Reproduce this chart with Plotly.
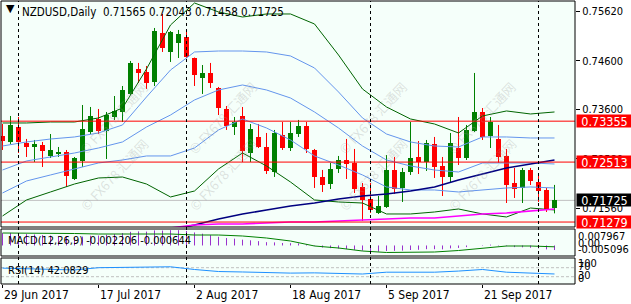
import plotly.graph_objects as go
import pandas as pd

# ---------------- data ----------------
dates = pd.bdate_range("2017-06-29", "2017-10-04")  # 70 daily bars

opens = [0.73050,0.72927,0.73236,0.72906,0.72824,0.72865,0.72639,0.72680,0.72721,0.72165,
 0.72536,0.73133,0.73400,0.73153,0.73441,0.73544,0.73915,0.74429,0.74367,0.74162,
 0.75170,0.74779,0.74964,0.75088,0.74655,0.74244,0.74347,0.74038,0.73606,0.73236,
 0.73462,0.72700,0.73030,0.72824,0.72309,0.73071,0.72803,0.73091,0.73256,0.72762,
 0.72207,0.72062,0.72371,0.72556,0.72495,0.72001,0.71754,0.71466,0.71589,0.72351,
 0.71980,0.72309,0.72618,0.72515,0.72886,0.72433,0.72207,0.72803,0.72597,0.73153,
 0.73544,0.73050,0.72989,0.72639,0.72083,0.71980,0.72351,0.72103,0.71939,0.71565]
highs = [0.73297,0.73462,0.73441,0.72989,0.72968,0.72927,0.73091,0.72824,0.72762,0.72618,
 0.73688,0.73647,0.73606,0.73544,0.73873,0.74079,0.74594,0.74553,0.74491,0.75273,
 0.75561,0.75211,0.75232,0.75232,0.74665,0.74511,0.74553,0.74059,0.73667,0.73441,
 0.73647,0.73297,0.73297,0.73112,0.73174,0.73338,0.73338,0.73380,0.73338,0.72783,
 0.72351,0.72495,0.72639,0.72989,0.72783,0.72083,0.72083,0.71815,0.72659,0.72618,
 0.72392,0.73338,0.72947,0.72968,0.73030,0.72618,0.73112,0.73441,0.73277,0.74347,
 0.73626,0.73441,0.73277,0.72783,0.72392,0.72392,0.72392,0.72268,0.71980,0.72043]
lows = [0.72762,0.72886,0.72700,0.72618,0.72515,0.72412,0.72597,0.72618,0.72001,0.72145,
 0.72412,0.73091,0.73091,0.72577,0.73380,0.73338,0.73894,0.74141,0.74017,0.74079,
 0.74779,0.74573,0.74655,0.74655,0.74079,0.73915,0.74038,0.73482,0.73174,0.73071,
 0.72515,0.72515,0.72803,0.72268,0.72207,0.72762,0.72741,0.73030,0.72700,0.71980,
 0.71898,0.71959,0.72289,0.72165,0.71877,0.71301,0.71466,0.71445,0.71569,0.71857,
 0.71692,0.72248,0.72268,0.72330,0.72186,0.71815,0.72103,0.72453,0.72556,0.73133,
 0.72968,0.72803,0.72495,0.71671,0.71774,0.71671,0.72042,0.71692,0.71486,0.71458]
closes = [0.72947,0.73277,0.72927,0.72824,0.72886,0.72741,0.72762,0.72721,0.72227,0.72597,
 0.73194,0.73462,0.73153,0.73482,0.73565,0.73997,0.74553,0.74347,0.74141,0.75211,
 0.74861,0.75191,0.75149,0.74676,0.74306,0.74347,0.74141,0.73626,0.73256,0.73338,
 0.72741,0.73194,0.72824,0.72330,0.73112,0.72803,0.73112,0.73256,0.72783,0.72207,
 0.72042,0.72371,0.72556,0.72474,0.71959,0.71733,0.71527,0.71610,0.72351,0.71959,
 0.72309,0.72597,0.72515,0.72906,0.72412,0.72207,0.72906,0.72597,0.73174,0.73544,
 0.73030,0.73338,0.72618,0.72042,0.71959,0.72351,0.72124,0.71918,0.71548,0.71725]

# indicator lines, read every third bar
line_idx = [0,3,6,9,12,15,18,21,24,27,30,33,36,39,42,45,48,51,54,57,60,63,66,69]
bb_upper2 = [0.73318,0.73318,0.73338,0.73338,0.73421,0.73626,0.74429,0.75334,0.75787,0.75602,0.75499,0.75561,
             0.75561,0.75355,0.74717,0.74017,0.73647,0.73400,0.73297,0.73112,0.73462,0.73565,0.73503,0.73544]
bb_upper1 = [0.72844,0.72927,0.72988,0.73030,0.73112,0.73277,0.73853,0.74408,0.74779,0.74799,0.74799,0.74779,
             0.74697,0.74450,0.73956,0.73421,0.73091,0.72927,0.72844,0.72824,0.73030,0.73030,0.73009,0.73009]
bb_mid = [0.72350,0.72536,0.72618,0.72700,0.72803,0.72927,0.73235,0.73482,0.73791,0.73997,0.74100,0.73997,
          0.73832,0.73544,0.73215,0.72844,0.72556,0.72433,0.72350,0.72309,0.72495,0.72495,0.72495,0.72474]
bb_lower1 = [0.71877,0.72124,0.72248,0.72371,0.72495,0.72556,0.72639,0.72639,0.72803,0.73174,0.73400,0.73215,
             0.72968,0.72639,0.72453,0.72248,0.72001,0.71939,0.71939,0.71898,0.71939,0.71980,0.72001,0.71980]
bb_lower2 = [0.71404,0.71733,0.71898,0.72062,0.72186,0.72206,0.72062,0.71795,0.71918,0.72371,0.72700,0.72433,
             0.72103,0.71733,0.71692,0.71671,0.71445,0.71445,0.71486,0.71548,0.71445,0.71383,0.71568,0.71527]
ma_navy = [None,None,None,None,None,None,None,0.71116,0.71219,0.71342,0.71445,0.71527,
           0.71610,0.71671,0.71754,0.71815,0.71857,0.71918,0.72001,0.72145,0.72268,0.72392,0.72474,0.72556]
ma_magenta = [None,None,None,None,None,None,None,0.71157,0.71219,0.71239,0.71239,0.71260,
              0.71280,0.71280,0.71301,0.71321,0.71342,0.71363,0.71363,0.71404,0.71445,0.71466,0.71507,0.71548]

macd_main = [0.0060,0.0061,0.0058,0.0055,0.0053,0.0050,0.0048,0.0046,0.0041,0.0040,
 0.0043,0.0047,0.0048,0.0052,0.0055,0.0060,0.0066,0.0068,0.0067,0.0073,
 0.0072,0.0074,0.0074,0.0070,0.0063,0.0057,0.0050,0.0042,0.0036,0.0033,
 0.0028,0.0025,0.0021,0.0016,0.0015,0.0012,0.0011,0.0010,0.0006,-0.0003,
 -0.0010,-0.0013,-0.0015,-0.0017,-0.0021,-0.0025,-0.0028,-0.0030,-0.0027,-0.0026,
 -0.0025,-0.0022,-0.0021,-0.0018,-0.0018,-0.0019,-0.0014,-0.0012,-0.0008,0.0000,
 0.0002,0.0004,0.0002,-0.0004,-0.0008,-0.0009,-0.0011,-0.0014,-0.0019,-0.002206]
macd_signal = [0.00603,0.00603,0.00603,0.00579,0.00555,0.00555,0.00555,0.00555,0.00506,0.00506,0.00458,0.00361,
               0.00216,-0.00026,-0.00123,-0.00268,-0.00340,-0.00340,-0.00316,-0.00244,-0.00123,-0.00026,-0.00026,-0.000644]
rsi = [68,66,62,60,70,72,74,74,62,53,51,47,46,47,43,42,50,51,50,55,62,50,47,42.0829]

price_ticks = [0.75620, 0.74600, 0.73600, 0.72580, 0.71560]
level_lines = [0.73355, 0.72513, 0.71279]
last_price = 0.71725
date_tick_idx = [0, 12, 24, 36, 48, 60]
date_tick_text = ["29 Jun 2017", "17 Jul 2017", "2 Aug 2017", "18 Aug 2017", "5 Sep 2017", "21 Sep 2017"]
title_text = "NZDUSD,Daily  0.71565 0.72043 0.71458 0.71725"
macd_text = "MACD(12,26,9) -0.002206 -0.000644"
rsi_text = "RSI(14) 42.0829"
macd_range = [-0.005096, 0.007967]
rsi_levels = [70, 30]

# ---------------- figure ----------------
FONT = "DejaVu Sans Condensed, DejaVu Sans"
W, H = 631, 304
ML, MR, MT, MB = 1, 56, 1, 20
PH = H - MT - MB

def py(pix):  # pixel row -> paper y
    return (H - MB - pix) / PH

def px(pix):
    return (pix - ML) / (W - ML - MR)

idx = list(range(len(dates)))
month_starts = [i for i in idx[1:] if dates[i].month != dates[i - 1].month]

fig = go.Figure()
GREEN, RED = "#008000", "#FF0000"

up = [i for i in idx if closes[i] >= opens[i]]
dn = [i for i in idx if closes[i] < opens[i]]
for sel, col in ((up, GREEN), (dn, RED)):
    wx, wy = [], []
    for i in sel:
        wx += [i, i, None]
        wy += [lows[i], highs[i], None]
    fig.add_trace(go.Scatter(x=wx, y=wy, mode="lines", line=dict(color=col, width=1),
                             hoverinfo="skip", showlegend=False))
    fig.add_trace(go.Bar(x=sel, base=[min(opens[i], closes[i]) for i in sel],
                         y=[max(abs(closes[i] - opens[i]), 0.00004) for i in sel],
                         width=0.68, marker=dict(color=col, line=dict(width=0)),
                         showlegend=False))

for arr, col in ((bb_upper2, "#006400"), (bb_lower2, "#006400"),
                 (bb_upper1, "#6495ED"), (bb_mid, "#6495ED"), (bb_lower1, "#6495ED"),
                 (ma_navy, "#000080"), (ma_magenta, "#FF00FF")):
    fig.add_trace(go.Scatter(x=line_idx, y=arr, mode="lines",
                             line=dict(color=col, width=1.6 if col in ("#000080", "#FF00FF") else 1),
                             showlegend=False, hoverinfo="skip"))

# MACD
hx, hy = [], []
for i in idx:
    hx += [i, i, None]
    hy += [0, macd_main[i], None]
fig.add_trace(go.Scatter(x=hx, y=hy, mode="lines", line=dict(color="#9932CC", width=1),
                         yaxis="y2", showlegend=False, hoverinfo="skip"))
fig.add_trace(go.Scatter(x=line_idx, y=macd_signal, mode="lines", line=dict(color="#008000", width=1),
                         yaxis="y2", showlegend=False, hoverinfo="skip"))
# RSI
fig.add_trace(go.Scatter(x=line_idx, y=rsi, mode="lines", line=dict(color="#1E90FF", width=1),
                         yaxis="y3", showlegend=False, hoverinfo="skip"))

shapes = []
for lv in level_lines:
    shapes.append(dict(type="line", xref="paper", x0=0, x1=1, yref="y", y0=lv, y1=lv,
                       line=dict(color=RED, width=1), layer="above"))
shapes.append(dict(type="line", xref="paper", x0=0, x1=1, yref="y", y0=last_price, y1=last_price,
                   line=dict(color="#C0C0C0", width=1), layer="below"))
for lv in rsi_levels:
    shapes.append(dict(type="line", xref="paper", x0=0, x1=1, yref="y3", y0=lv, y1=lv,
                       line=dict(color="#C0C0C0", width=1, dash="3px,2px"), layer="below"))
for m in month_starts:
    shapes.append(dict(type="line", xref="x", x0=m, x1=m, yref="paper", y0=0, y1=1,
                       line=dict(color="black", width=1, dash="3px,3px"), layer="above"))
for ax in ("y", "y2", "y3"):
    shapes.append(dict(type="rect", xref="paper", x0=0, x1=1, yref=ax + " domain", y0=0, y1=1,
                       line=dict(color="black", width=1), layer="above"))

ann = []
# watermarks
for cx in (73, 223, 373, 523):
    for cy in (75, 217):
        ann.append(dict(text="© FX678 汇通网", xref="paper", yref="paper", x=px(cx), y=py(cy),
                        showarrow=False, textangle=-47,
                        font=dict(family="Noto Sans CJK SC", size=13, color="rgba(150,150,150,0.28)")))
ann.append(dict(text="▼", xref="paper", yref="paper", x=px(10), y=py(12), xanchor="center",
                yanchor="middle", showarrow=False, yshift=4,
                font=dict(family="DejaVu Sans", size=11, color="black")))
ann.append(dict(text=title_text, xref="paper", yref="paper", x=px(20), y=py(12), xanchor="left",
                yanchor="middle", showarrow=False, font=dict(family=FONT, size=11.5, color="black")))
ann.append(dict(text=macd_text, xref="paper", yref="paper", x=px(6), y=py(240), xanchor="left",
                yanchor="middle", showarrow=False, font=dict(family=FONT, size=11, color="black")))
ann.append(dict(text=rsi_text, xref="paper", yref="paper", x=px(6), y=py(270), xanchor="left",
                yanchor="middle", showarrow=False, font=dict(family=FONT, size=11, color="black")))
for ti, tt in zip(date_tick_idx, date_tick_text):
    ann.append(dict(text=tt, xref="x", x=ti, xshift=-1, yref="paper", y=py(295), xanchor="left",
                    yanchor="middle", showarrow=False, font=dict(family=FONT, size=12, color="black")))
for lv in level_lines + [last_price]:
    ann.append(dict(text=f"{lv:.5f}", xref="paper", x=1, xshift=1, yref="y", y=lv, xanchor="left",
                    yanchor="middle", showarrow=False, width=55, height=12, align="center",
                    bgcolor="black" if lv == last_price else RED, borderpad=0,
                    font=dict(family=FONT, size=12.5, color="white")))
for txt, pyy in (("0.007967", 236), ("0.00", 243), ("-0.005096", 249)):
    ann.append(dict(text=txt, xref="paper", x=1, xshift=1, yref="paper", y=py(pyy), xanchor="left",
                    yanchor="middle", showarrow=False, font=dict(family=FONT, size=11, color="black")))
for txt, pyy in (("100", 263), ("70", 266), ("30", 275), ("0", 278)):
    ann.append(dict(text=txt, xref="paper", x=1, xshift=1, yref="paper", y=py(pyy), xanchor="left",
                    yanchor="middle", showarrow=False, font=dict(family=FONT, size=11, color="black")))

fig.update_layout(
    width=W, height=H, margin=dict(l=ML, r=MR, t=MT, b=MB),
    paper_bgcolor="white", plot_bgcolor="#F5FFFA", barmode="overlay", bargap=0,
    showlegend=False, shapes=shapes, annotations=ann,
    xaxis=dict(range=[-0.1875, 71.5625], anchor="y3", showgrid=False, zeroline=False,
               tickvals=date_tick_idx, ticks="outside", ticklen=3, tickcolor="black",
               showticklabels=False, fixedrange=True),
    yaxis=dict(domain=[py(227), 1], range=[0.71177, 0.75828], side="right", showgrid=False,
               zeroline=False, tickvals=price_ticks, ticktext=[f"{v:.5f}" for v in price_ticks],
               ticks="outside", ticklen=4, tickcolor="black",
               tickfont=dict(family=FONT, size=11, color="black")),
    yaxis2=dict(domain=[py(256), py(229)], range=macd_range, side="right", showgrid=False,
                zeroline=False, showticklabels=False, ticks=""),
    yaxis3=dict(domain=[0, py(258)], range=[-2.4, 113], side="right", showgrid=False,
                zeroline=False, showticklabels=False, ticks=""),
)

fig.write_html("out.html")
